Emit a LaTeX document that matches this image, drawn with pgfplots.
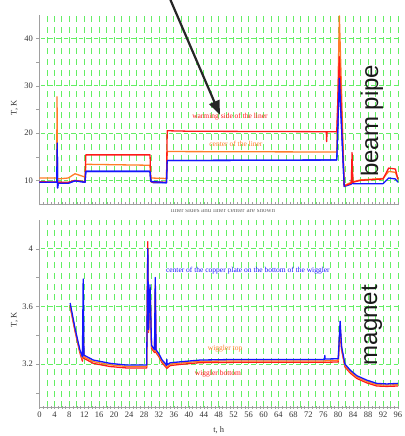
\documentclass[border=0pt]{standalone}
\usepackage{fontspec}
\setmainfont{Liberation Serif}
\newfontfamily\arial{Liberation Sans}
\usepackage{pgfplots}
\pgfplotsset{compat=1.18}
\usetikzlibrary{arrows.meta}

\definecolor{gridgreen}{RGB}{100,238,100}
\definecolor{lred}{RGB}{255,25,25}
\definecolor{lorange}{RGB}{255,125,40}
\definecolor{lblue}{RGB}{20,20,255}
\definecolor{axgray}{RGB}{160,160,160}

\pgfplotsset{
  panel/.style={
    scale only axis, width=358.5pt,
    xmin=0, xmax=96,
    axis x line*=bottom, axis y line*=left,
    axis line style={axgray, line width=0.6pt},
    xtick distance=4, minor x tick num=1,
    extra x ticks={1,3,...,95},
    extra x tick labels={},
    extra x tick style={grid=none},
    xtick align=center, ytick align=outside,
    major tick length=3pt, minor tick length=3pt,
    tick style={axgray, line width=0.4pt},
    xmajorgrids=true, xminorgrids=true, ymajorgrids=true,
    x grid style={gridgreen, line width=0.9pt, dash pattern=on 6pt off 4.7pt},
    y grid style={gridgreen, line width=0.9pt, dash pattern=on 4.5pt off 3pt, dash phase=-1.5pt},
    ticklabel style={font=\fontsize{8.5}{9}\selectfont, text=black!80},
    label style={font=\fontsize{8.5}{9}\selectfont, text=black!80},
    /pgf/number format/assume math mode=true,
    every axis plot/.append style={line width=1.3pt, line join=round},
    clip=false,
  }
}

\begin{document}
\begin{tikzpicture}
\path[use as bounding box] (0,0) rectangle (404pt,436pt);

% ---------- beam pipe ----------
\begin{axis}[panel, at={(39.5pt,232pt)}, anchor=south west, height=189pt,
  ymin=5, ymax=45, ytick={10,20,30,40}, minor y tick num=1,
  xticklabels={},
  ylabel={T, K},
  ylabel style={at={(axis description cs:-0.07,0.51)}, anchor=center}]
\addplot[lblue] coordinates {
 (0,9.6) (4.6,9.6) (4.75,17.9) (4.85,8.4) (5.0,9.4) (7.7,9.4) (9.5,9.9)
 (12.2,9.6) (12.4,11.9) (29.6,11.9) (29.8,9.8) (30.5,9.5) (34.0,9.5)
 (34.2,14.2) (79.6,14.3) (80.3,31.6) (81.6,8.7) (83.5,9.2) (83.7,11.2)
 (83.9,9.3) (92,9.3) (93.5,10.5) (95.3,10.3) (96,9.6)};
\addplot[lorange] coordinates {
 (0,10.5) (4.6,10.5) (4.7,27.7) (4.8,10.3) (7.7,10.5) (9.5,11.4)
 (12.2,10.7) (12.4,13.4) (29.6,13.2) (29.8,10.5) (34.0,10.4) (34.2,16.1)
 (79.6,16.0) (80.3,44.8) (81.6,8.9) (83.5,9.6) (83.7,14.5) (83.9,9.7)
 (86,10.1) (92,10.4) (93.5,11.9) (95.3,11.7) (96,10.3)};
\addplot[lred] coordinates {
 (0,9.7) (7.7,9.6) (9.5,10.0) (12.2,9.7) (12.4,15.4) (29.6,15.4)
 (29.8,9.7) (34.0,9.6) (34.2,20.5) (40,20.4) (76.8,20.3) (76.9,18.2)
 (77.0,20.3) (79.6,20.3) (80.3,36.2) (81.6,8.8) (83.5,9.4) (83.7,15.9)
 (83.9,9.6) (86,10.0) (92,10.3) (93.5,12.6) (95.3,12.4) (96,10.2)};
\addplot[lblue] coordinates {(0,9.6) (4.6,9.6) (4.75,17.9) (4.85,8.4) (5.0,9.4) (7.7,9.4) (9.5,9.9) (12.2,9.6) (12.4,11.9) (29.6,11.9) (29.8,9.8) (34.0,9.5) (34.2,14.2) (79.6,14.3) (80.3,31.6) (81.6,8.7)};
\draw[-{Triangle[length=14pt,width=11pt]}, line width=2.2pt, black!85]
  (axis cs:34.9,48.5) -- (axis cs:48.3,23.9);
\node[text=lred, font=\fontsize{7.5}{8}\selectfont] at (axis cs:51.0,23.4) {warming side of the liner};
\node[text=lorange, font=\fontsize{7.5}{8}\selectfont] at (axis cs:52.6,17.7) {center of the liner};
\node[rotate=90, font=\arial\fontsize{24}{24}\selectfont, text=black!90] at (axis cs:89,22.6) {beam pipe};
\end{axis}

% partly hidden caption line
\begin{scope}
\clip (145pt,222pt) rectangle (302pt,226pt);
\node[text=black!60, font=\fontsize{7}{7}\selectfont] at (223pt,226pt) {liner sides and liner center are shown};
\end{scope}

% ---------- magnet ----------
\begin{axis}[panel, at={(39.5pt,28.7pt)}, anchor=south west, height=187.3pt,
  ymin=2.9, ymax=4.2, ytick={3.2,3.6,4}, yticklabels={3.2,3.6,4},
  minor ytick={3.0,3.4,3.8},
  ylabel={T, K}, xlabel={t, h},
  ylabel style={at={(axis description cs:-0.07,0.466)}, anchor=center},
  xlabel style={at={(axis description cs:0.5,-0.12)}, anchor=center}]
\addplot[lred] coordinates {
 (8.2,3.60) (9.5,3.43) (10.8,3.28) (11.5,3.22) (11.7,3.30) (11.9,3.24)
 (14.4,3.205) (18.9,3.183) (23.3,3.173) (28.7,3.173) (29.0,4.05)
 (29.2,3.42) (29.6,3.72) (30.0,3.31) (30.8,3.28) (31.0,3.70) (31.2,3.28)
 (32.0,3.25) (32.8,3.21) (33.8,3.18) (34.1,3.17) (35,3.19) (37.8,3.198)
 (43,3.21) (52,3.212) (76.3,3.212) (80,3.215) (80.5,3.44) (80.9,3.30)
 (81.8,3.18) (83.2,3.138) (85,3.10) (87.6,3.07) (90.3,3.048) (93,3.045)
 (96,3.048)};
\addplot[lorange] coordinates {
 (8.2,3.61) (9.5,3.44) (10.8,3.29) (11.5,3.235) (11.7,3.50) (11.9,3.25)
 (14.4,3.217) (18.9,3.195) (23.3,3.183) (28.7,3.183) (29.0,3.95)
 (29.2,3.43) (29.6,3.73) (30.0,3.32) (30.8,3.29) (31.0,3.75) (31.2,3.29)
 (32.0,3.26) (32.8,3.22) (33.8,3.19) (34.1,3.18) (35,3.20) (37.8,3.207)
 (43,3.219) (52,3.222) (76.3,3.222) (80,3.226) (80.5,3.46) (80.9,3.31)
 (81.8,3.19) (83.2,3.148) (85,3.11) (87.6,3.08) (90.3,3.057) (93,3.054)
 (96,3.057)};
\addplot[lblue] coordinates {
 (8.2,3.624) (9.5,3.45) (10.8,3.30) (11.5,3.25) (11.7,3.79) (11.9,3.262)
 (14.4,3.228) (18.9,3.205) (23.3,3.193) (28.7,3.193) (29.0,4.0)
 (29.2,3.44) (29.6,3.75) (30.0,3.33) (30.8,3.30) (31.0,3.80) (31.2,3.30)
 (32.0,3.27) (32.8,3.23) (33.8,3.20) (34.0,3.19) (34.1,3.232) (34.2,3.195)
 (35,3.209) (37.8,3.216) (43,3.228) (52,3.232) (76.3,3.232) (76.4,3.26)
 (76.5,3.235) (80,3.237) (80.5,3.497) (80.9,3.32) (81.8,3.20) (83.2,3.158)
 (85,3.119) (87.6,3.089) (90.3,3.066) (93,3.062) (96,3.066)};
\node[text=lblue, font=\fontsize{7.5}{8}\selectfont] at (axis cs:55.8,3.846) {center of the copper plate on the bottom of the wiggler};
\node[text=lorange, font=\fontsize{7.5}{8}\selectfont] at (axis cs:49.7,3.309) {wiggler top};
\node[text=lred, font=\fontsize{7.5}{8}\selectfont] at (axis cs:47.8,3.131) {wiggler bottom};
\node[rotate=90, font=\arial\fontsize{24}{24}\selectfont, text=black!90] at (axis cs:89,3.47) {magnet};
\end{axis}
\end{tikzpicture}
\end{document}
